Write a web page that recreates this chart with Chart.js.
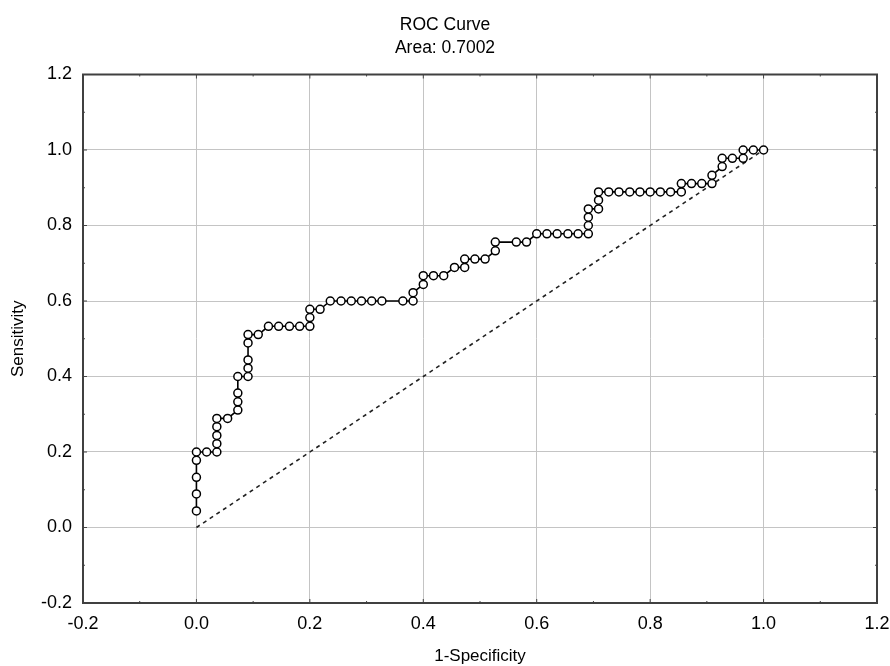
<!DOCTYPE html>
<html>
<head>
<meta charset="utf-8">
<title>ROC Curve</title>
<script src="https://cdn.jsdelivr.net/npm/chart.js@4/dist/chart.umd.min.js"></script>
<style>
  body { margin: 0; background: #fff; }
  canvas { display: block; }
</style>
</head>
<body>
<canvas id="rocChart" width="890" height="666"></canvas>
<script>
// ========== Data ==========
const fpr = [
  0, 0, 0, 0, 0, 0.018, 0.036, 0.036, 0.036, 0.036, 0.036, 0.055,
  0.073, 0.073, 0.073, 0.073, 0.091, 0.091, 0.091, 0.091, 0.091, 0.109,
  0.127, 0.145, 0.164, 0.182, 0.2, 0.2, 0.2, 0.218,
  0.236, 0.255, 0.273, 0.291, 0.309, 0.327, 0.364, 0.382, 0.382,
  0.4, 0.4, 0.418, 0.436, 0.455, 0.473, 0.473, 0.491, 0.509,
  0.527, 0.527, 0.564, 0.582, 0.6,
  0.618, 0.636, 0.655, 0.673, 0.691, 0.691, 0.691, 0.691,
  0.709, 0.709, 0.709,
  0.727, 0.745, 0.764, 0.782, 0.8, 0.818, 0.836, 0.855, 0.855,
  0.873, 0.891, 0.909, 0.909, 0.927, 0.927, 0.945, 0.964, 0.964, 0.982, 1.0
];
const tpr = [
  0.044, 0.089, 0.133, 0.178, 0.2, 0.2, 0.2, 0.222, 0.244, 0.267, 0.289, 0.289,
  0.311, 0.333, 0.356, 0.4, 0.4, 0.422, 0.444, 0.489, 0.511, 0.511,
  0.533, 0.533, 0.533, 0.533, 0.533, 0.556, 0.578, 0.578,
  0.6, 0.6, 0.6, 0.6, 0.6, 0.6, 0.6, 0.6, 0.622,
  0.644, 0.667, 0.667, 0.667, 0.689, 0.689, 0.711, 0.711, 0.711,
  0.733, 0.756, 0.756, 0.756, 0.778,
  0.778, 0.778, 0.778, 0.778, 0.778, 0.8, 0.822, 0.844,
  0.844, 0.867, 0.889,
  0.889, 0.889, 0.889, 0.889, 0.889, 0.889, 0.889, 0.889, 0.911,
  0.911, 0.911, 0.911, 0.933, 0.956, 0.978, 0.978, 0.978, 1.0, 1.0, 1.0
];
const chanceX = [0, 1];
const chanceY = [0, 1];
const tickValues = [-0.2, 0.0, 0.2, 0.4, 0.6, 0.8, 1.0, 1.2];
const titleLines = ['ROC Curve', 'Area: 0.7002'];

const FONT = "'Liberation Sans', Arial, sans-serif";

// ========== Frame with inward ticks ==========
const framePlugin = {
  id: 'frame',
  afterDraw(chart) {
    const { ctx, chartArea: a, scales: { x, y } } = chart;
    ctx.save();
    ctx.strokeStyle = '#444';
    ctx.lineWidth = 1;
    ctx.beginPath();
    // minor + major ticks on every side
    for (let i = 0; i < tickValues.length; i++) {
      const v = tickValues[i];
      const px = x.getPixelForValue(v);
      const py = y.getPixelForValue(v);
      ctx.moveTo(px, a.bottom); ctx.lineTo(px, a.bottom - 4);
      ctx.moveTo(px, a.top); ctx.lineTo(px, a.top + 4);
      ctx.moveTo(a.left, py); ctx.lineTo(a.left + 4, py);
      ctx.moveTo(a.right, py); ctx.lineTo(a.right - 4, py);
      if (i < tickValues.length - 1) {
        const m = (v + tickValues[i + 1]) / 2;
        const mx = x.getPixelForValue(m);
        const my = y.getPixelForValue(m);
        ctx.moveTo(mx, a.bottom); ctx.lineTo(mx, a.bottom - 2);
        ctx.moveTo(mx, a.top); ctx.lineTo(mx, a.top + 2);
        ctx.moveTo(a.left, my); ctx.lineTo(a.left + 2, my);
        ctx.moveTo(a.right, my); ctx.lineTo(a.right - 2, my);
      }
    }
    ctx.stroke();
    ctx.lineWidth = 2;
    ctx.strokeStyle = '#404040';
    ctx.strokeRect(a.left, a.top, a.right - a.left, a.bottom - a.top);
    ctx.restore();
  }
};

// ========== Chart ==========
function generateChart() {
  const ctx = document.getElementById('rocChart').getContext('2d');
  new Chart(ctx, {
    type: 'scatter',
    data: {
      datasets: [
        {
          label: 'ROC',
          data: fpr.map((v, i) => ({ x: v, y: tpr[i] })),
          showLine: true,
          borderColor: '#000',
          borderWidth: 1.6,
          pointRadius: 4,
          pointBorderWidth: 1.5,
          pointBorderColor: '#000',
          pointBackgroundColor: '#fff',
          tension: 0
        },
        {
          label: 'Chance',
          data: chanceX.map((v, i) => ({ x: v, y: chanceY[i] })),
          showLine: true,
          borderColor: '#222',
          borderWidth: 1.6,
          borderDash: [4, 4],
          pointRadius: 0
        }
      ]
    },
    options: {
      responsive: false,
      animation: false,
      layout: { padding: { right: 0 } },
      plugins: {
        legend: { display: false },
        tooltip: { enabled: false },
        title: {
          display: true,
          text: titleLines,
          color: '#000',
          font: { family: FONT, size: 17.5, weight: 'normal', lineHeight: 1.3 },
          padding: { top: 14, bottom: 15 }
        }
      },
      scales: {
        x: {
          type: 'linear',
          min: -0.2,
          max: 1.2,
          afterFit: s => { s.height = 63; s.paddingRight = 13; },
          afterBuildTicks: s => { s.ticks = tickValues.map(v => ({ value: v })); },
          border: { display: false },
          grid: { color: '#c4c4c4', lineWidth: 1, drawTicks: false },
          ticks: {
            color: '#000',
            padding: 10,
            font: { family: FONT, size: 18 },
            callback: v => v.toFixed(1)
          },
          title: {
            display: true,
            text: '1-Specificity',
            color: '#000',
            font: { family: FONT, size: 17, lineHeight: 1.1 },
            padding: { top: 0, bottom: 0 }
          }
        },
        y: {
          type: 'linear',
          min: -0.2,
          max: 1.2,
          afterFit: s => { s.width = 83; },
          afterBuildTicks: s => { s.ticks = tickValues.map(v => ({ value: v })); },
          border: { display: false },
          grid: { color: '#c4c4c4', lineWidth: 1, drawTicks: false },
          ticks: {
            color: '#000',
            padding: 11,
            font: { family: FONT, size: 18 },
            callback: v => v.toFixed(1)
          },
          title: {
            display: true,
            text: 'Sensitivity',
            color: '#000',
            font: { family: FONT, size: 17, lineHeight: 1.2 },
            padding: { top: 8, bottom: 0 }
          }
        }
      }
    },
    plugins: [framePlugin]
  });
}

document.addEventListener('DOMContentLoaded', generateChart);
</script>
</body>
</html>
